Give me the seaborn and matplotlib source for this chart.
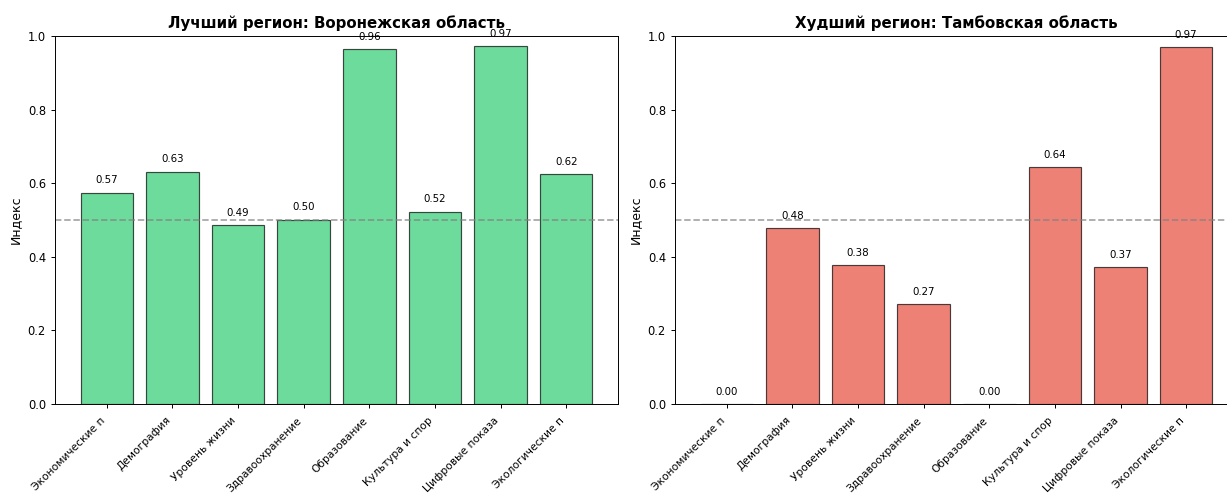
import matplotlib
matplotlib.use("Agg")
import matplotlib.pyplot as plt
import seaborn as sns

categories = ["Экономические п", "Демография", "Уровень жизни", "Здравоохранение",
              "Образование", "Культура и спор", "Цифровые показа", "Экологические п"]
best_values = [0.574, 0.631, 0.486, 0.501, 0.964, 0.523, 0.972, 0.624]
worst_values = [0.0, 0.478, 0.377, 0.271, 0.0, 0.643, 0.371, 0.970]
best_title = "Лучший регион: Воронежская область"
worst_title = "Худший регион: Тамбовская область"
best_color = "#2ecc71"
worst_color = "#e74c3c"

plt.rcParams['font.family'] = ['DejaVu Sans']
plt.rcParams['axes.linewidth'] = 0.7
plt.rcParams['xtick.major.width'] = 0.7
plt.rcParams['ytick.major.width'] = 0.7
plt.rcParams['xtick.major.size'] = 3.0
plt.rcParams['ytick.major.size'] = 3.0

fig = plt.figure(figsize=(12.27, 4.94), dpi=100)
ax1 = fig.add_axes([55 / 1227, 90 / 494, 563 / 1227, 368 / 494])
ax2 = fig.add_axes([675 / 1227, 90 / 494, 563 / 1227, 368 / 494])

for ax, vals, title, color in [(ax1, best_values, best_title, best_color),
                               (ax2, worst_values, worst_title, worst_color)]:
    sns.barplot(x=list(range(len(categories))), y=vals, color=color, saturation=1,
                alpha=0.7, edgecolor="black", linewidth=0.85, width=0.8, ax=ax,
                native_scale=True)
    ax.set_xlim(-0.79, len(categories) - 1 + 0.79)
    ax.set_ylim(0, 1.0)
    ax.axhline(0.5, color="gray", linestyle="--", alpha=0.7, linewidth=1.25)
    for i, v in enumerate(vals):
        ax.text(i, v + 0.02, f"{v:.2f}", ha="center", va="bottom", fontsize=7.4)
    ax.set_xticks(range(len(categories)))
    ax.set_xticklabels(categories, rotation=45, ha="right", fontsize=7.7)
    ax.tick_params(axis="x", pad=5)
    ax.tick_params(axis="y", labelsize=8.3)
    ax.set_ylabel("Индекс", fontsize=9)
    ax.set_xlabel("")
    ax.set_title(title, fontsize=10.8, fontweight="bold")

fig.savefig("out.png", dpi=100)
